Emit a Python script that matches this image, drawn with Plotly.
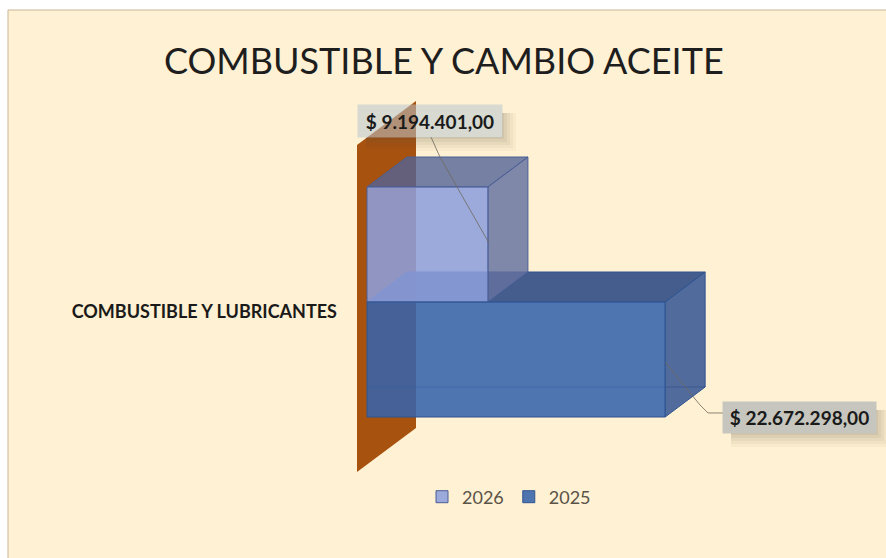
import plotly.graph_objects as go

# --- data ---
title_text = "COMBUSTIBLE Y CAMBIO ACEITE"
category = "COMBUSTIBLE Y LUBRICANTES"
series_names = ["2026", "2025"]
series_values = [9194401.00, 22672298.00]
value_labels = ["$ 9.194.401,00", "$ 22.672.298,00"]
front_colors = ["rgba(141,158,220,0.88)", "rgba(55,99,171,0.88)"]
top_colors = ["rgba(82,100,150,0.80)", "rgba(42,72,130,0.88)"]
side_colors = ["rgba(100,112,160,0.82)", "rgba(50,84,146,0.85)"]
edge_colors = ["#4A5E96", "#2F5590"]

# --- geometry of the 3D frame ---
W, H = 886, 558
L = 338
PX_PER_VAL = 13.15 / 1e6
PX_PER_UNIT = 115
X0_PX, Y0_PX = 367, 417
x_range = [(L - X0_PX) / PX_PER_VAL, (W - X0_PX) / PX_PER_VAL]
y_range = [(Y0_PX - H) / PX_PER_UNIT, Y0_PX / PX_PER_UNIT]
DX = 40 / PX_PER_VAL
DY = 30 / PX_PER_UNIT
WALL_L = -10 / PX_PER_VAL
WALL_DX = 59 / PX_PER_VAL
WALL_DY = 44 / PX_PER_UNIT
WALL_BOTTOM = -55 / PX_PER_UNIT
WALL_TOP = 272 / PX_PER_UNIT


def px(x):
    return (x - L) / (W - L)


def py(y):
    return 1 - y / H


def face(xs, ys, color, line="rgba(0,0,0,0)"):
    path = "M " + " L ".join(f"{a},{b}" for a, b in zip(xs, ys)) + " Z"
    return dict(type="path", xref="x", yref="y", path=path, fillcolor=color,
                line=dict(color=line, width=1), layer="below")


shapes = [
    dict(type="rect", xref="paper", yref="paper", x0=px(8), x1=px(W + 5), y0=py(10), y1=py(H + 5),
         fillcolor="#FFF1D3", line=dict(color="#C9B596", width=1), layer="below"),
    face([WALL_L, WALL_L + WALL_DX, WALL_L + WALL_DX, WALL_L],
         [WALL_BOTTOM, WALL_BOTTOM + WALL_DY, WALL_TOP + WALL_DY, WALL_TOP], "#A8520F"),
]

# back-to-front: top and side faces
for i in (1, 0):
    v = series_values[i]
    lo = 1 - i
    hi = lo + 1
    shapes.append(face([0, DX, v + DX, v], [hi, hi + DY, hi + DY, hi], top_colors[i], edge_colors[i]))
    shapes.append(face([v, v + DX, v + DX, v], [lo, lo + DY, hi + DY, hi], side_colors[i], edge_colors[i]))

# floor edge seen through the lower bar
shapes.append(dict(type="line", xref="x", yref="y", x0=0, x1=series_values[1] + DX, y0=DY, y1=DY,
                   line=dict(color="rgba(45,75,135,0.55)", width=1), layer="below"))


def shadow(x0, y0, x1, y1):
    # soft drop shadow: strips along the right and bottom of the label only
    for k, a in zip((14, 11, 8, 5, 2), (0.04, 0.05, 0.06, 0.07, 0.08)):
        for (a0, b0, a1, b1) in ((x1, y0 + 8, x1 + k, y1 + k), (x0 + 8, y1, x1, y1 + k)):
            shapes.append(dict(type="rect", xref="paper", yref="paper",
                               x0=px(a0), x1=px(a1), y0=py(b0), y1=py(b1),
                               fillcolor=f"rgba(90,80,60,{a})", line=dict(width=0), layer="above"))


def leader(points):
    path = "M " + " L ".join(f"{px(a):.4f},{py(b):.4f}" for a, b in points)
    shapes.append(dict(type="path", xref="paper", yref="paper", path=path,
                       line=dict(color="rgba(110,105,95,0.8)", width=1), layer="above"))


shadow(358, 105, 502, 137)
shadow(723, 402, 876, 433)
leader([(431, 137), (440, 157), (457, 187), (489, 243)])
leader([(665, 362), (700, 405), (708, 413), (723, 413)])

annotations = [
    dict(xref="paper", yref="paper", x=px(430), y=py(121), text=value_labels[0], showarrow=False,
         xanchor="center", yanchor="middle", width=140, height=28,
         bgcolor="rgba(184,196,205,0.55)", borderpad=2,
         font=dict(family="Lato", size=19, color="#1A1A1A", weight="bold")),
    dict(xref="paper", yref="paper", x=px(799.5), y=py(417.5), text=value_labels[1], showarrow=False,
         xanchor="center", yanchor="middle", width=149, height=27,
         bgcolor="rgba(195,195,190,0.95)", borderpad=2,
         font=dict(family="Lato", size=19, color="#1A1A1A", weight="bold")),
    dict(xref="paper", yref="paper", x=px(444), y=py(60), text=title_text, showarrow=False,
         xanchor="center", yanchor="middle",
         font=dict(family="Lato", size=36, color="#1E1E1E")),
]

fig = go.Figure()
for i, name in enumerate(series_names):
    fig.add_trace(go.Bar(x=[series_values[i]], y=[1.5 - i], width=1, orientation="h", name=name,
                         marker=dict(color=front_colors[i], line=dict(color=edge_colors[i], width=1))))

fig.update_layout(
    width=W, height=H,
    margin=dict(l=L, r=0, t=0, b=0),
    paper_bgcolor="white", plot_bgcolor="rgba(0,0,0,0)",
    barmode="overlay",
    xaxis=dict(range=x_range, visible=False, fixedrange=True),
    yaxis=dict(range=y_range, tickmode="array", tickvals=[0.92], ticktext=[category],
               showgrid=False, zeroline=False, showline=False, ticks="",
               tickfont=dict(family="Lato", size=18, color="#1A1A1A", weight="bold")),
    legend=dict(orientation="h", x=px(509), y=py(497), xanchor="center", yanchor="middle",
                font=dict(family="Lato", size=18, color="#5A5348"),
                bgcolor="rgba(0,0,0,0)", traceorder="normal", itemwidth=30),
    shapes=shapes, annotations=annotations,
    showlegend=True,
)
fig.write_html("out.html", config=dict(displayModeBar=False),
               post_script="document.body.style.margin='0';document.body.style.overflow='hidden';")
